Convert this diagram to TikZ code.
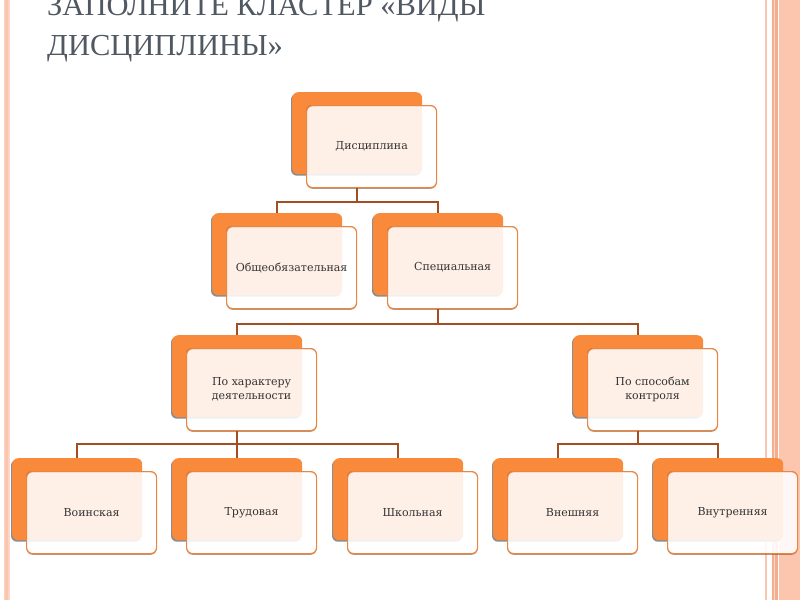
\documentclass[tikz,border=0pt]{standalone}
\usepackage{fontspec}
\setmainfont{Liberation Serif}
\newfontfamily\boxfont{DejaVu Serif}
\usetikzlibrary{calc}
\definecolor{orng}{HTML}{F98A3B}
\definecolor{frame}{HTML}{EA8642}
\definecolor{connc}{HTML}{A04E22}
\definecolor{ttl}{HTML}{505862}
\definecolor{pinkl}{HTML}{FDD6C6}
\definecolor{pinkm}{HTML}{FBC5AE}
\definecolor{pinkd}{HTML}{F3AE90}
\definecolor{txt}{HTML}{333333}
\tikzset{
  backbox/.style={fill=orng, rounded corners=6pt, minimum width=130pt, minimum height=82pt, inner sep=0pt, anchor=north west},
  backshadow/.style={fill=black!45, rounded corners=6pt, minimum width=130pt, minimum height=82pt, inner sep=0pt, anchor=north west},
  frontbox/.style={draw=frame, line width=1.2pt, fill=white, fill opacity=0.88, text opacity=1, rounded corners=6pt, minimum width=130pt, minimum height=82pt, inner sep=2pt, anchor=north west, font=\boxfont\fontsize{11}{14}\selectfont, text=txt, align=center},
  frontshadow/.style={fill=connc!80!black, fill opacity=0.55, even odd rule, rounded corners=6pt},
  link/.style={draw=connc, line width=1.8pt},
  titletext/.style={anchor=base west, inner sep=0pt, text=ttl, font=\fontsize{30.5}{30.5}\selectfont},
}
\newcommand\unitbox[4]{%
  \node[backshadow] at (#2-1.2,#3+1.5) {};
  \node[backbox] (#1b) at (#2,#3) {};
  \fill[frontshadow] (#2+14.6,#3+14.8) rectangle ++(130,82) (#2+14,#3+13) rectangle ++(130,82);
  \node[frontbox] (#1) at (#2+14,#3+13) {#4};
}
\begin{document}
\begin{tikzpicture}[x=1pt,y=-1pt]
\useasboundingbox (0,0) rectangle (800,600);
\clip (0,0) rectangle (800,600);
\fill[white] (0,0) rectangle (800,600);
% borders
\fill[pinkl] (3.5,0) rectangle (9.5,600);
\fill[pinkm] (5,0) rectangle (8,600);
\fill[pinkm] (765,0) rectangle (767,600);
\fill[pinkd] (772,0) rectangle (777.5,600);
\fill[pinkl] (773.5,0) rectangle (775,600);
\fill[pinkm] (779,0) rectangle (800,600);
% title
\node[titletext] (t1) at (47,15) {ЗАПОЛНИТЕ КЛАСТЕР «ВИДЫ};
\node[titletext] (t2) at (47,55) {ДИСЦИПЛИНЫ»};
% bus levels
\coordinate (bus1) at (0,202);
\coordinate (bus2) at (0,324);
\coordinate (bus3) at (0,444);
% boxes
\unitbox{D}{292}{92}{Дисциплина}
\unitbox{O}{212}{213}{Общеобязательная}
\unitbox{S}{373}{213}{Специальная}
\unitbox{P}{172}{335}{По характеру\\деятельности}
\unitbox{K}{573}{335}{По способам\\контроля}
\unitbox{Va}{12}{458}{Воинская}
\unitbox{Vb}{172}{458}{Трудовая}
\unitbox{Vc}{333}{458}{Школьная}
\unitbox{Vd}{493}{458}{Внешняя}
\unitbox{Ve}{653}{458}{Внутренняя}
% connectors
\draw[link] (Db.center |- D.south) -- (Db.center |- bus1);
\draw[link] (Ob.north) -- (Ob.center |- bus1) -- (Sb.center |- bus1) -- (Sb.north);
\draw[link] (Sb.center |- S.south) -- (Sb.center |- bus2);
\draw[link] (Pb.north) -- (Pb.center |- bus2) -- (Kb.center |- bus2) -- (Kb.north);
\draw[link] (Pb.center |- P.south) -- (Pb.center |- bus3);
\draw[link] (Vab.north) -- (Vab.center |- bus3) -- (Vcb.center |- bus3) -- (Vcb.north);
\draw[link] (Vbb.north) -- (Vbb.center |- bus3);
\draw[link] (Kb.center |- K.south) -- (Kb.center |- bus3);
\draw[link] (Vdb.north) -- (Vdb.center |- bus3) -- (Veb.center |- bus3) -- (Veb.north);
\end{tikzpicture}
\end{document}
